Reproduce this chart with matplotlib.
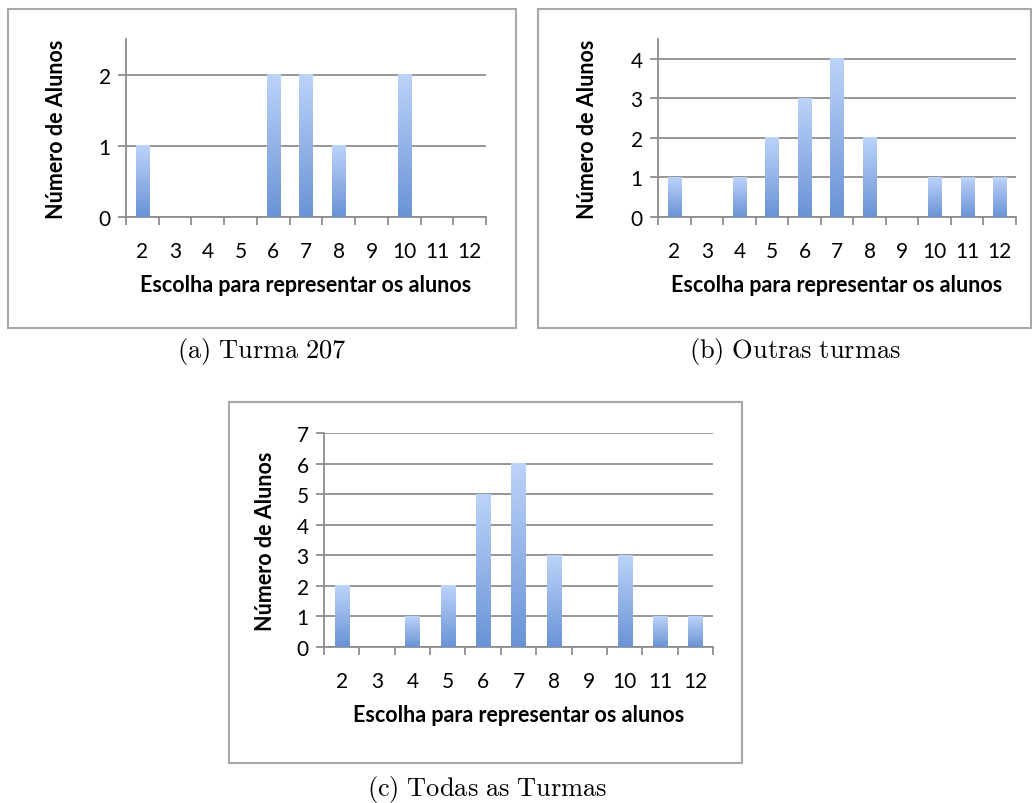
import numpy as np
import matplotlib.pyplot as plt
from matplotlib.colors import LinearSegmentedColormap
from matplotlib.patches import Rectangle

categories = ["2", "3", "4", "5", "6", "7", "8", "9", "10", "11", "12"]
turma207 = [1, 0, 0, 0, 2, 2, 1, 0, 2, 0, 0]
outras = [1, 0, 1, 2, 3, 4, 2, 0, 1, 1, 1]
todas = [2, 0, 1, 2, 5, 6, 3, 0, 3, 1, 1]

captions = ["(a) Turma 207", "(b) Outras turmas", "(c) Todas as Turmas"]
xlabel = "Escolha para representar os alunos"
ylabel = "Número de Alunos"

plt.rcParams['font.family'] = ['Lato', 'DejaVu Sans']
plt.rcParams['mathtext.fontset'] = 'cm'

W, H = 1032, 804
GRAY = '#8e8e8e'
barCmap = LinearSegmentedColormap.from_list('bar', ['#6a93d6', '#bcd3f9'])
gradient = np.linspace(0, 1, 64).reshape(-1, 1)


def px(x0, y0, x1, y1):
    # pixel box (top-left origin) -> figure fraction rect
    return [x0 / W, 1 - y1 / H, (x1 - x0) / W, (y1 - y0) / H]


def drawChart(fig, rect, values, ymax, ylabelX):
    ax = fig.add_axes(rect)
    xs = np.arange(len(values))
    width = 0.4
    for x, v in zip(xs, values):
        if v > 0:
            ax.imshow(gradient, cmap=barCmap, origin='lower', aspect='auto',
                      extent=(x - width / 2, x + width / 2, 0, v), zorder=3)
    ax.set_xlim(-0.5, len(values) - 0.5)
    ax.set_ylim(0, ymax)
    ax.set_yticks(range(int(ymax) + 1))
    ax.yaxis.grid(True, color=GRAY, linewidth=1.3, zorder=1)
    ax.set_axisbelow(True)
    for s in ['top', 'right']:
        ax.spines[s].set_visible(False)
    for s in ['left', 'bottom']:
        ax.spines[s].set_color(GRAY)
        ax.spines[s].set_linewidth(1.3)
    ax.set_xticks(xs)
    ax.set_xticklabels(categories)
    ax.set_xticks(np.arange(len(values) + 1) - 0.5, minor=True)
    ax.tick_params(axis='x', which='major', length=0, pad=17, labelsize=15)
    ax.tick_params(axis='x', which='minor', length=6, width=1.3, color=GRAY)
    ax.tick_params(axis='y', length=6, width=1.3, color=GRAY, pad=5, labelsize=15)
    ax.set_xlabel(xlabel, fontsize=15.5, fontweight='bold', labelpad=10)
    ax.set_ylabel(ylabel, fontsize=15.5, fontweight='bold')
    ax.yaxis.set_label_coords((ylabelX - rect[0] * W) / (rect[2] * W), 0.5)
    ax.yaxis.label.set_va('center')
    return ax


fig = plt.figure(figsize=(W / 100, H / 100), dpi=100)

# frames
for (x0, y0, x1, y1) in [(8, 10, 516, 329), (538, 10, 1031, 329), (229, 403, 742, 764)]:
    r = px(x0, y0, x1, y1)
    fig.patches.append(Rectangle((r[0], r[1]), r[2], r[3], transform=fig.transFigure,
                                 fill=False, edgecolor='#a8a8a8', linewidth=1.5))

drawChart(fig, px(126, 40, 486, 218), turma207, 2.5, 57)
drawChart(fig, px(658, 40, 1016, 218), outras, 4.5, 588)
drawChart(fig, px(324, 434, 713, 648), todas, 7, 265)

for text, (cx, cy) in zip(captions, [(262, 352), (795, 352), (487, 790)]):
    label = r"$\mathrm{" + text.replace(" ", r"\ ") + "}$"
    fig.text(cx / W, 1 - cy / H, label, ha='center', va='center', fontsize=19)

fig.savefig('out.png', dpi=100, facecolor='white')
